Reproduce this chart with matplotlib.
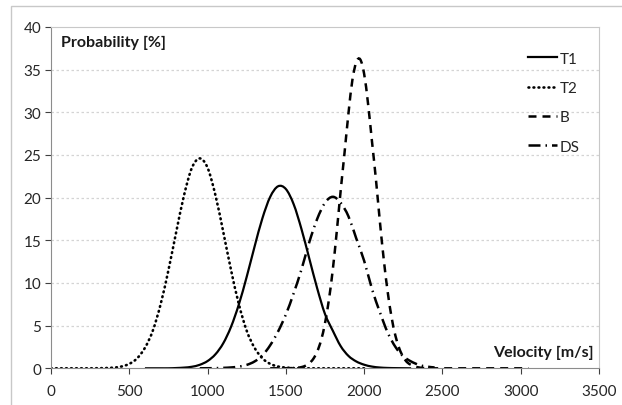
import numpy as np
import matplotlib.pyplot as plt
from matplotlib.patches import Rectangle, PathPatch
from matplotlib.path import Path
from matplotlib.lines import Line2D

plt.rcParams['font.family'] = ['Lato', 'DejaVu Sans']

# velocity grids [m/s]
v_t2 = np.arange(0, 2001, 50)
v_t1 = np.arange(600, 2301, 50)
v_b = np.arange(1400, 3051, 25)
v_ds = np.arange(950, 2451, 50)

# probability [%]
p_t2 = [0, 0, 0, 0, 0, 0,
        0.01, 0.03, 0.08, 0.21, 0.52, 1.17, 2.4, 4.4, 7.5, 11.5, 16.0, 20.3, 23.5,
        24.6,
        23.5, 20.3, 16.0, 11.5, 7.5, 4.4, 2.4, 1.17, 0.52, 0.21, 0.08, 0.03, 0.01,
        0, 0, 0, 0, 0, 0, 0, 0]

p_t1 = [0.0, 0.0, 0.0, 0.0, 0.03, 0.08, 0.18, 0.41, 0.85, 1.64, 2.93, 4.87,
        7.50, 10.73, 14.25, 17.57, 20.09, 21.33, 21.01, 19.22, 16.30, 12.84,
        9.38, 6.36, 4.4, 2.6, 1.45, 0.8, 0.42, 0.2, 0.09, 0.04, 0.02, 0.01, 0.0]

p_b = [0.0, 0.0, 0.0, 0.0, 0.01, 0.02, 0.03, 0.07, 0.14, 0.30, 0.59, 1.10,
       1.95, 3.29, 5.28, 8.04, 11.6, 16.0, 20.8, 25.3, 29.9, 33.8, 35.9, 36.2,
       34.5, 31.0, 26.6, 22.2, 17.3, 12.8, 9.0, 6.0, 3.8, 2.3, 1.3, 0.7, 0.4,
       0.2, 0.1, 0.04, 0.02, 0.01,
       0, 0, 0, 0, 0, 0, 0, 0, 0, 0, 0, 0, 0, 0, 0, 0, 0, 0, 0, 0, 0, 0, 0, 0, 0]

p_ds = [0.0, 0.01, 0.02, 0.05, 0.1, 0.2, 0.4, 0.8, 1.5, 2.7, 4.3, 6.3, 8.8,
        11.6, 14.8, 17.5, 19.4, 20.1, 19.4, 17.8, 15.2, 12.6, 9.3, 6.6, 4.2,
        2.5, 1.4, 0.8, 0.4, 0.2, 0.1]

labels = ['T1', 'T2', 'B', 'DS']


def smooth_path(x, y):
    # Catmull-Rom through the points, as cubic Bezier segments
    pts = np.column_stack([x, y]).astype(float)
    ext = np.vstack([pts[0], pts, pts[-1]])
    verts = [pts[0]]
    codes = [Path.MOVETO]
    for i in range(len(pts) - 1):
        p0, p1, p2, p3 = ext[i], ext[i + 1], ext[i + 2], ext[i + 3]
        verts += [p1 + (p2 - p0) / 6, p2 - (p3 - p1) / 6, p2]
        codes += [Path.CURVE4] * 3
    return Path(verts, codes)


fig = plt.figure(figsize=(6.22, 4.06), dpi=100)
# chart area border
fig.patches.append(Rectangle((11 / 622, -0.1), 1.2, 1 - 7 / 406 + 0.1,
                             transform=fig.transFigure, fill=False,
                             edgecolor='#c8c8c8', lw=1.0))
ax = fig.add_axes([51 / 622, 36.7 / 406, 548 / 622, 341.3 / 406])

styles = [
    dict(lw=1.6, linestyle='-'),
    dict(lw=1.9, linestyle=(0, (0.3, 1.6)), capstyle='round'),
    dict(lw=1.8, linestyle=(0, (3.2, 2.4))),
    dict(lw=1.8, linestyle=(0, (4.8, 2.0, 0.6, 2.0))),
]
series = [(v_t1, p_t1), (v_t2, p_t2), (v_b, p_b), (v_ds, p_ds)]

handles = []
for (v, p), st, lab in zip(series, styles, labels):
    patch = PathPatch(smooth_path(v, p), fill=False, edgecolor='black',
                      lw=st['lw'], linestyle=st['linestyle'])
    if 'capstyle' in st:
        patch.set_capstyle(st['capstyle'])
    ax.add_patch(patch)
    h = Line2D([], [], color='black', lw=st['lw'], linestyle=st['linestyle'])
    if 'capstyle' in st:
        h.set_dash_capstyle(st['capstyle'])
    handles.append(h)

ax.set_xlim(0, 3500)
ax.set_ylim(0, 40)
ax.set_xticks(np.arange(0, 3501, 500))
ax.set_yticks(np.arange(0, 41, 5))
ax.tick_params(labelsize=11, colors='#404040', length=4, width=0.8,
               direction='out', pad=3)
ax.tick_params(axis='x', pad=7)
for lab in ax.get_xticklabels() + ax.get_yticklabels():
    lab.set_color('#262626')

# horizontal dotted grid
for y in range(5, 40, 5):
    ax.axhline(y, color='#d4d4d4', lw=0.9, linestyle=(0, (2, 2)), zorder=0)

ax.spines['left'].set_color('#8c8c8c')
ax.spines['bottom'].set_color('#8c8c8c')
ax.spines['top'].set_color('#c8c8c8')
ax.spines['right'].set_color('#c8c8c8')

ax.text(0.018, 0.955, 'Probability [%]', transform=ax.transAxes, fontsize=11.5,
        fontweight='bold', va='center', ha='left', color='#1a1a1a')
ax.text(0.991, 0.048, 'Velocity [m/s]', transform=ax.transAxes, fontsize=11.5,
        fontweight='bold', va='center', ha='right', color='#1a1a1a')

leg = ax.legend(handles, labels, loc='upper right', bbox_to_anchor=(0.978, 0.95),
                frameon=False, fontsize=11, handlelength=1.9, handletextpad=0.15,
                labelspacing=1.0, borderpad=0)
for t in leg.get_texts():
    t.set_color('#262626')

plt.savefig('out.png', dpi=100)
